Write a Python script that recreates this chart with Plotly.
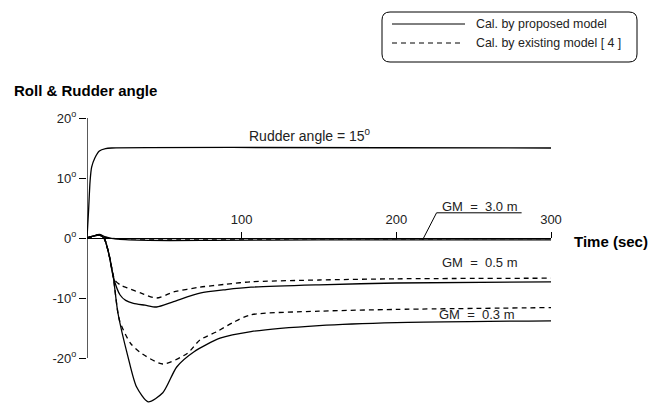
import plotly.graph_objects as go

# ---------------- data ----------------
t_rudder = [0, 1, 2, 3, 5, 8, 12, 16, 300]
rudder = [0, 4.5, 9.5, 11.8, 13.3, 14.5, 14.9, 15, 15]

t_gm30_cal = [0, 4, 8, 12, 20, 40, 80, 150, 300]
gm30_cal = [0, 0.3, 0.6, 0.2, -0.2, -0.4, -0.4, -0.3, -0.3]
t_gm30_exist = [0, 4, 8, 12, 20, 60, 150, 300]
gm30_exist = [0, 0.3, 0.5, 0.1, -0.1, -0.2, -0.15, -0.1]

t_gm05_cal = [0, 4, 8, 11, 14, 17, 21.4, 25, 30, 37.5, 45, 56, 73, 90, 106, 150, 200, 300]
gm05_cal = [0, 0.3, 0.5, 0, -2.5, -6.5, -9.5, -10.4, -10.9, -11.2, -11.5, -10.6, -9.2, -8.6, -8.2, -7.8, -7.5, -7.3]
t_gm05_exist = [0, 4, 8, 11, 14, 18, 22, 26, 35, 45, 56, 73, 90, 106, 150, 200, 300]
gm05_exist = [0, 0.3, 0.5, 0, -2.5, -7.0, -7.9, -8.3, -9.2, -10.0, -9.0, -8.2, -7.7, -7.3, -7.0, -6.8, -6.7]

t_gm03_cal = [0, 4, 8, 11, 14, 17, 20, 26.5, 32, 39.5, 49, 58, 69, 86, 106, 150, 200, 300]
gm03_cal = [0, 0.3, 0.5, 0, -2.5, -6.5, -12.5, -19.8, -24.8, -27.3, -25.8, -21.5, -19.0, -16.7, -15.6, -14.6, -14.1, -13.8]
t_gm03_exist = [0, 4, 8, 11, 14, 17, 21, 28, 34, 49, 65, 73, 84, 95, 106, 150, 200, 300]
gm03_exist = [0, 0.3, 0.5, 0, -2.5, -6.5, -13.7, -17.5, -19.0, -21.0, -19.2, -17.0, -15.6, -14.0, -12.8, -12.2, -11.9, -11.6]

x_tickvals = [100, 200, 300]
y_tickvals = [-20, -10, 0, 10, 20]
y_ticktext = ["-20<sup>o</sup>", "-10<sup>o</sup>", "0<sup>o</sup>", "10<sup>o</sup>", "20<sup>o</sup>"]

legend_labels = ["Cal. by proposed model", "Cal. by existing model [ 4 ]"]

# ---------------- layout geometry ----------------
W, H = 663, 403
ML, MR, MT, MB = 87, 112, 105, 0
PW, PH = W - ML - MR, H - MT - MB
XR = [0, 300]
YR = [-27.5, 22.1667]

FONT = "Liberation Sans, Arial, sans-serif"
TXT = "#222222"
LW = 1.3
DASH = "5px,4px"


def px(x):
    return (x - ML) / PW


def py(y):
    return (H - MB - y) / PH


fig = go.Figure()

solid = dict(color="black", width=LW)
dashed = dict(color="black", width=LW, dash=DASH)

series = [
    (t_rudder, rudder, solid),
    (t_gm30_exist, gm30_exist, dashed),
    (t_gm30_cal, gm30_cal, solid),
    (t_gm05_exist, gm05_exist, dashed),
    (t_gm05_cal, gm05_cal, solid),
    (t_gm03_exist, gm03_exist, dashed),
    (t_gm03_cal, gm03_cal, solid),
]
for tx, vy, ln in series:
    fig.add_trace(go.Scatter(x=tx, y=vy, mode="lines", line=dict(shape="spline", smoothing=0.7, **ln),
                             showlegend=False, hoverinfo="skip"))

x_pos = (0 - YR[0]) / (YR[1] - YR[0])

fig.update_layout(
    width=W, height=H,
    margin=dict(l=ML, r=MR, t=MT, b=MB, pad=0),
    paper_bgcolor="white", plot_bgcolor="white",
    font=dict(family=FONT, size=12, color=TXT),
    xaxis=dict(range=XR, anchor="free", position=x_pos, side="top",
               showline=True, linecolor="black", linewidth=LW,
               ticks="outside", ticklen=6, tickwidth=1, tickcolor="black",
               tickvals=x_tickvals, showgrid=False, zeroline=False,
               ticklabelstandoff=3,
               tickfont=dict(size=13, color=TXT, family=FONT)),
    yaxis=dict(range=YR, showline=False, ticks="outside", ticklen=7, tickwidth=1,
               tickcolor="black", tickvals=y_tickvals, ticktext=y_ticktext,
               showgrid=False, zeroline=False,
               tickfont=dict(size=13, color=TXT, family=FONT)),
)

# y axis line from -20 to 20
fig.add_shape(type="line", xref="x", yref="y", x0=0, x1=0, y0=-20, y1=20,
              line=dict(color="black", width=LW))

# GM=3.0 label underline + leader
fig.add_shape(type="line", xref="x", yref="y", x0=226, x1=281, y0=4.2, y1=4.2,
              line=dict(color="black", width=1))
fig.add_shape(type="line", xref="x", yref="y", x0=226, x1=217, y0=4.2, y1=-0.3,
              line=dict(color="black", width=1))

# curve labels
labels = [
    (144, 17.1, "Rudder angle = 15<sup>0</sup>", 14),
    (254, 5.3, "GM\u00a0\u00a0=\u00a0\u00a03.0 m", 13),
    (254, -4.0, "GM\u00a0\u00a0=\u00a0\u00a00.5 m", 13),
    (252, -12.7, "GM\u00a0\u00a0=\u00a0\u00a00.3 m", 13),
]
for lx, ly, s, fs in labels:
    fig.add_annotation(x=lx, y=ly, xref="x", yref="y", text=s, showarrow=False,
                       font=dict(size=fs, color=TXT, family=FONT))

# titles
fig.add_annotation(x=px(12), y=py(91), xref="paper", yref="paper", xanchor="left", yanchor="middle",
                   text="<b>Roll & Rudder angle</b>", showarrow=False,
                   font=dict(size=15, color="black", family=FONT))
fig.add_annotation(x=px(572), y=py(241), xref="paper", yref="paper", xanchor="left", yanchor="middle",
                   text="<b>Time (sec)</b>", showarrow=False,
                   font=dict(size=15, color="black", family=FONT))

# legend box (rounded)
x0, x1, y0, y1, r = 382, 637, 12, 62, 8
path = (f"M {px(x0 + r)},{py(y0)} L {px(x1 - r)},{py(y0)} "
        f"Q {px(x1)},{py(y0)} {px(x1)},{py(y0 + r)} L {px(x1)},{py(y1 - r)} "
        f"Q {px(x1)},{py(y1)} {px(x1 - r)},{py(y1)} L {px(x0 + r)},{py(y1)} "
        f"Q {px(x0)},{py(y1)} {px(x0)},{py(y1 - r)} L {px(x0)},{py(y0 + r)} "
        f"Q {px(x0)},{py(y0)} {px(x0 + r)},{py(y0)} Z")
fig.add_shape(type="path", xref="paper", yref="paper", path=path,
              line=dict(color="black", width=1))
fig.add_shape(type="line", xref="paper", yref="paper", x0=px(392), x1=px(465), y0=py(24), y1=py(24),
              line=dict(color="black", width=1))
fig.add_shape(type="line", xref="paper", yref="paper", x0=px(392), x1=px(460), y0=py(43), y1=py(43),
              line=dict(color="black", width=1, dash=DASH))
for ly, s in zip([24, 43], legend_labels):
    fig.add_annotation(x=px(474), y=py(ly), xref="paper", yref="paper", xanchor="left", yanchor="middle",
                       text=s, showarrow=False, font=dict(size=12.4, color=TXT, family=FONT))

fig.write_html("out.html")
